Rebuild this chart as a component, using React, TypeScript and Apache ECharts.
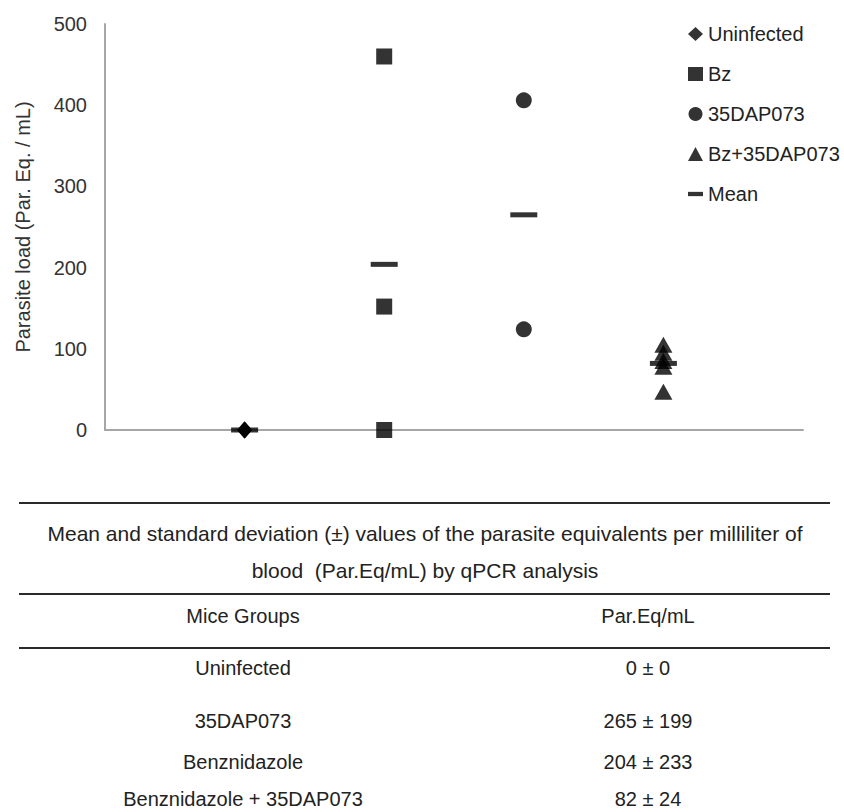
import React, { useEffect, useRef } from "react";
import * as echarts from "echarts";

const groupNames = ["Uninfected", "Bz", "35DAP073", "Bz+35DAP073"];
const groupPositions = [1, 2, 3, 4];
const uninfectedValues = [0, 0, 0];
const bzValues = [460, 152, 0];
const dapValues = [406, 124];
const comboValues = [105, 95, 85, 78, 47];
const meanValues = [0, 204, 265, 82];
const yTicks = { min: 0, max: 500, interval: 100 };

const tableTitle1 = "Mean and standard deviation (±) values of the parasite equivalents per milliliter of";
const tableTitle2 = "blood  (Par.Eq/mL) by qPCR analysis";
const tableHeaders = ["Mice Groups", "Par.Eq/mL"];
const tableGroups = ["Uninfected", "35DAP073", "Benznidazole", "Benznidazole + 35DAP073"];
const tableValues = ["0 ± 0", "265 ± 199", "204 ± 233", "82 ± 24"];

const FONT = "'Liberation Sans', Arial, sans-serif";

export default function App() {
  const ref = useRef<HTMLDivElement>(null);
  useEffect(() => {
    document.body.style.margin = "0";
    const chart = echarts.init(ref.current!, null, { renderer: "svg" });
    const pts = (pos: number, vals: number[]) => vals.map((v) => [pos, v]);
    const rowY = [668, 721, 762, 799];
    const col1 = 243;
    const col2 = 648;
    const txt = (text: string, x: number, y: number, size = 20) => ({
      type: "text",
      x,
      y,
      style: { text, align: "center", verticalAlign: "middle", fontSize: size, fontFamily: FONT, fill: "#222" },
    });
    const hline = (y: number) => ({
      type: "line",
      shape: { x1: 19, y1: y, x2: 830, y2: y },
      style: { stroke: "#2a2a2a", lineWidth: 2 },
    });
    const graphics: any[] = [
      hline(503),
      txt(tableTitle1, 425, 533, 21),
      txt(tableTitle2, 425, 570, 21),
      hline(594),
      txt(tableHeaders[0], col1, 616),
      txt(tableHeaders[1], col2, 616),
      hline(648),
    ];
    tableGroups.forEach((g, i) => {
      graphics.push(txt(g, col1, rowY[i]));
      graphics.push(txt(tableValues[i], col2, rowY[i]));
    });

    chart.setOption({
      animation: false,
      backgroundColor: "#fff",
      grid: { left: 105, top: 24, width: 698, height: 406, containLabel: false },
      xAxis: {
        type: "value",
        min: 0,
        max: 5,
        axisLine: { show: true, onZero: false, lineStyle: { color: "#a6a6a6", width: 2 } },
        axisTick: { show: false },
        axisLabel: { show: false },
        splitLine: { show: false },
      },
      yAxis: {
        type: "value",
        min: yTicks.min,
        max: yTicks.max,
        interval: yTicks.interval,
        name: "Parasite load (Par. Eq. / mL)",
        nameLocation: "middle",
        nameGap: 72,
        nameTextStyle: { fontSize: 20, fontFamily: FONT, color: "#333" },
        axisLine: { show: true, lineStyle: { color: "#a6a6a6", width: 2 } },
        axisTick: { show: false },
        axisLabel: { fontSize: 20, fontFamily: FONT, color: "#333", margin: 18 },
        splitLine: { show: false },
      },
      legend: {
        orient: "vertical",
        left: 683,
        top: 19,
        itemWidth: 15,
        itemHeight: 14,
        itemGap: 20,
        textStyle: { fontSize: 20, fontFamily: FONT, color: "#222", lineHeight: 20 },
        data: [
          { name: groupNames[0], icon: "diamond" },
          { name: groupNames[1], icon: "rect" },
          { name: groupNames[2], icon: "circle" },
          { name: groupNames[3], icon: "triangle" },
          { name: "Mean", icon: "path://M0,0H14V4H0Z" },
        ],
      },
      series: [
        { name: "Mean", type: "scatter", symbol: "rect", symbolSize: [27, 5], itemStyle: { color: "#000" }, data: meanValues.map((v, i) => [groupPositions[i], v]), z: 3 },
        { name: groupNames[0], type: "scatter", symbol: "diamond", symbolSize: [15, 17], itemStyle: { color: "#000" }, data: pts(groupPositions[0], uninfectedValues) },
        { name: groupNames[1], type: "scatter", symbol: "rect", symbolSize: 16, itemStyle: { color: "#000" }, data: pts(groupPositions[1], bzValues) },
        { name: groupNames[2], type: "scatter", symbol: "circle", symbolSize: 16, itemStyle: { color: "#000" }, data: pts(groupPositions[2], dapValues) },
        { name: groupNames[3], type: "scatter", symbol: "triangle", symbolSize: [18, 16], itemStyle: { color: "#000" }, data: pts(groupPositions[3], comboValues) },
      ],
      graphic: graphics,
    });
    return () => chart.dispose();
  }, []);
  return <div ref={ref} style={{ width: 844, height: 812 }} />;
}
